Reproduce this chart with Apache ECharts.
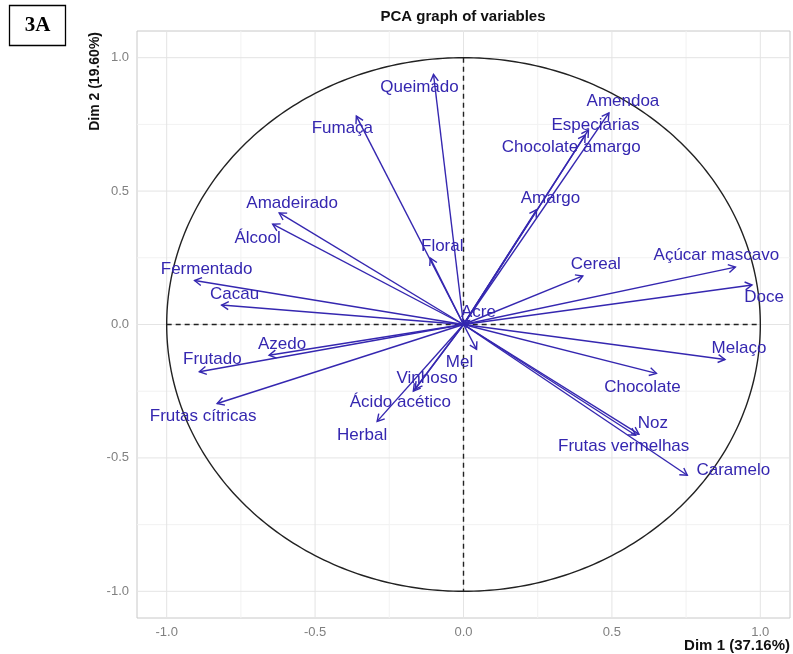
<!DOCTYPE html>
<html>
<head>
<meta charset="utf-8">
<script src="https://cdn.jsdelivr.net/npm/echarts@6/dist/echarts.min.js"></script>
<style>
html,body{margin:0;padding:0;background:#fff;}
#chart{width:793px;height:654px;}
</style>
</head>
<body>
<div id="chart"></div>
<script>
// ---- data ----
const variables = ["Queimado","Fumaça","Amadeirado","Álcool","Fermentado","Cacau","Azedo","Frutado","Frutas cítricas","Herbal","Ácido acético","Vinhoso","Floral","Mel","Acre","Amargo","Chocolate amargo","Especiarias","Amendoa","Cereal","Açúcar mascavo","Doce","Melaço","Chocolate","Noz","Frutas vermelhas","Caramelo"];
const dim1 = [-0.101,-0.361,-0.621,-0.643,-0.906,-0.815,-0.655,-0.890,-0.830,-0.291,-0.169,-0.163,-0.112,0.044,0.020,0.246,0.410,0.421,0.490,0.402,0.916,0.972,0.881,0.650,0.591,0.580,0.754];
const dim2 = [0.937,0.781,0.418,0.376,0.165,0.073,-0.115,-0.177,-0.296,-0.363,-0.250,-0.242,0.249,-0.093,0.015,0.430,0.710,0.729,0.793,0.182,0.215,0.148,-0.131,-0.183,-0.411,-0.415,-0.565];
const majorTicks = [-1.0,-0.5,0.0,0.5,1.0];
const minorTicks = [-0.75,-0.25,0.25,0.75];
const titleText = "PCA graph of variables";
const xTitle = "Dim 1 (37.16%)";
const yTitle = "Dim 2 (19.60%)";
const panelTag = "3A";

// ---- layout (label offsets in px from arrow tip) ----
const labelOffsets = [[-14,13],[-14,12],[13,-10],[-15,14],[12,-11],[13,-11],[13,-11],[13,-12],[-14,13],[-15,14],[-13,11],[12,-11],[12,-12],[-17,13],[9,-8],[14,-11],[-14,12],[7,-5],[14,-12],[13,-12],[-19,-12],[12,12],[14,-11],[-14,14],[14,-11],[-12,11],[46,-5]];

const VAR_COLOR = '#3527b0';
const FONT = '"Liberation Sans", Arial, sans-serif';

const chart = echarts.init(document.getElementById('chart'), null, {renderer:'canvas'});

function gridRender(params, api){
  const cs = params.coordSys;
  const children = [];
  minorTicks.forEach(v=>{
    const px = api.coord([v,0])[0];
    const py = api.coord([0,v])[1];
    children.push({type:'line', shape:{x1:px,y1:cs.y,x2:px,y2:cs.y+cs.height}, style:{stroke:'#f2f2f2',lineWidth:1}});
    children.push({type:'line', shape:{x1:cs.x,y1:py,x2:cs.x+cs.width,y2:py}, style:{stroke:'#f2f2f2',lineWidth:1}});
  });
  majorTicks.forEach(v=>{
    const px = api.coord([v,0])[0];
    const py = api.coord([0,v])[1];
    children.push({type:'line', shape:{x1:px,y1:cs.y,x2:px,y2:cs.y+cs.height}, style:{stroke:'#e4e4e4',lineWidth:1}});
    children.push({type:'line', shape:{x1:cs.x,y1:py,x2:cs.x+cs.width,y2:py}, style:{stroke:'#e4e4e4',lineWidth:1}});
  });
  return {type:'group', children};
}

function circleRender(params, api){
  const pts = [];
  const n = 360;
  for(let k=0;k<=n;k++){
    const t = 2*Math.PI*k/n;
    pts.push(api.coord([Math.cos(t), Math.sin(t)]));
  }
  const l = api.coord([-1,0]), r = api.coord([1,0]);
  const t = api.coord([0,1]), b = api.coord([0,-1]);
  return {type:'group', children:[
    {type:'polyline', shape:{points:pts}, style:{stroke:'#222', lineWidth:1.4, fill:'none'}},
    {type:'line', shape:{x1:l[0],y1:l[1],x2:r[0],y2:r[1]}, style:{stroke:'#222', lineWidth:1.4, lineDash:[5,4]}},
    {type:'line', shape:{x1:t[0],y1:t[1],x2:b[0],y2:b[1]}, style:{stroke:'#222', lineWidth:1.4, lineDash:[5,4]}}
  ]};
}

function arrowRender(params, api){
  const i = params.dataIndex;
  const o = api.coord([0,0]);
  const tip = api.coord([api.value(0), api.value(1)]);
  const ang = Math.atan2(tip[1]-o[1], tip[0]-o[0]);
  const L = 8, a = Math.PI/6;
  const p1 = [tip[0]-L*Math.cos(ang-a), tip[1]-L*Math.sin(ang-a)];
  const p2 = [tip[0]-L*Math.cos(ang+a), tip[1]-L*Math.sin(ang+a)];
  const off = labelOffsets[i];
  return {type:'group', children:[
    {type:'line', shape:{x1:o[0],y1:o[1],x2:tip[0],y2:tip[1]}, style:{stroke:VAR_COLOR, lineWidth:1.4}},
    {type:'polyline', shape:{points:[p1,tip,p2]}, style:{stroke:VAR_COLOR, lineWidth:1.4, fill:'none'}},
    {type:'text', x:tip[0]+off[0], y:tip[1]+off[1], style:{text:variables[i], fill:VAR_COLOR, fontSize:17, fontFamily:FONT, align:'center', verticalAlign:'middle'}}
  ]};
}

const axisCommon = {
  type:'value', min:-1.1, max:1.1,
  axisLine:{show:false}, axisTick:{show:false}, splitLine:{show:false},
  axisLabel:{customValues:majorTicks, formatter:v=>v.toFixed(1), color:'#808080', fontSize:13, fontFamily:FONT}
};

chart.setOption({
  animation:false,
  backgroundColor:'#ffffff',
  grid:{left:137, right:3, top:31, bottom:36, show:true, borderColor:'#c8c8c8', borderWidth:1, backgroundColor:'#ffffff'},
  xAxis:Object.assign({}, axisCommon, {axisLabel:Object.assign({}, axisCommon.axisLabel, {margin:8})}),
  yAxis:Object.assign({}, axisCommon, {axisLabel:Object.assign({}, axisCommon.axisLabel, {margin:8})}),
  series:[
    {type:'custom', silent:true, z:1, renderItem:gridRender, data:[[0,0]], clip:false},
    {type:'custom', silent:true, z:2, renderItem:circleRender, data:[[0,0]], clip:false},
    {type:'custom', silent:true, z:3, renderItem:arrowRender, encode:{x:0,y:1}, clip:false,
     data: variables.map((n,i)=>[dim1[i], dim2[i]])}
  ],
  graphic:[
    {type:'text', x:463, y:17, style:{text:titleText, fontSize:15, fontWeight:'bold', fontFamily:FONT, fill:'#111', align:'center', verticalAlign:'middle'}},
    {type:'text', x:790, y:646, style:{text:xTitle, fontSize:15, fontWeight:'bold', fontFamily:FONT, fill:'#111', align:'right', verticalAlign:'middle'}},
    {type:'text', x:95, y:32, rotation:Math.PI/2, style:{text:yTitle, fontSize:14, fontWeight:'bold', fontFamily:FONT, fill:'#111', align:'right', verticalAlign:'middle'}},
    {type:'rect', shape:{x:9.5,y:5.5,width:56,height:40}, style:{fill:'#fff', stroke:'#000', lineWidth:1.3}},
    {type:'text', x:37.5, y:26, style:{text:panelTag, fontSize:21, fontWeight:'bold', fontFamily:'"Liberation Serif", "Times New Roman", serif', fill:'#000', align:'center', verticalAlign:'middle'}}
  ]
});
</script>
</body>
</html>
